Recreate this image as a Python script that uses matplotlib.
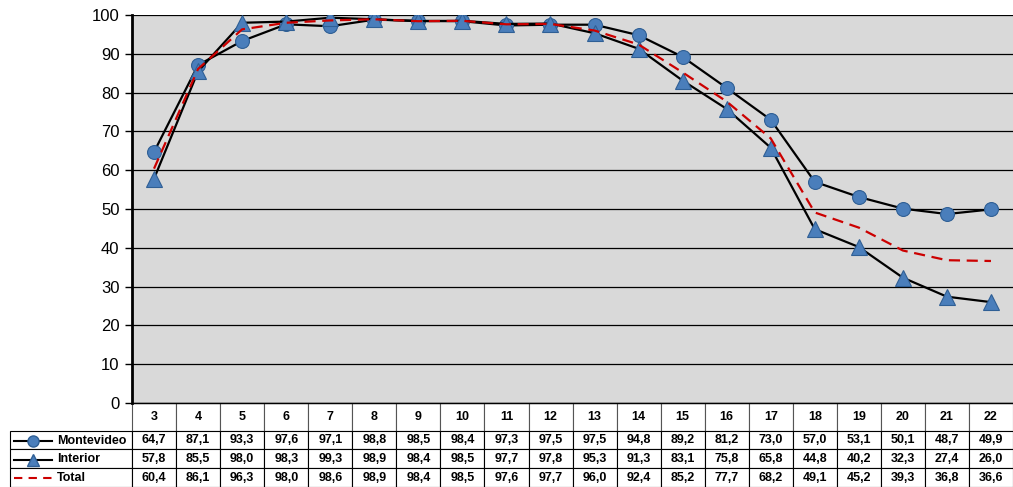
import matplotlib
matplotlib.use("Agg")
import matplotlib.pyplot as plt
from matplotlib.lines import Line2D
from matplotlib.table import Table

plt.rcParams['font.family'] = ['Liberation Sans', 'DejaVu Sans']

# Datos
edades = [3, 4, 5, 6, 7, 8, 9, 10, 11, 12, 13, 14, 15, 16, 17, 18, 19, 20, 21, 22]
montevideo = [64.7, 87.1, 93.3, 97.6, 97.1, 98.8, 98.5, 98.4, 97.3, 97.5,
              97.5, 94.8, 89.2, 81.2, 73.0, 57.0, 53.1, 50.1, 48.7, 49.9]
interior = [57.8, 85.5, 98.0, 98.3, 99.3, 98.9, 98.4, 98.5, 97.7, 97.8,
            95.3, 91.3, 83.1, 75.8, 65.8, 44.8, 40.2, 32.3, 27.4, 26.0]
total = [60.4, 86.1, 96.3, 98.0, 98.6, 98.9, 98.4, 98.5, 97.6, 97.7,
         96.0, 92.4, 85.2, 77.7, 68.2, 49.1, 45.2, 39.3, 36.8, 36.6]
series_names = ["Montevideo", "Interior", "Total"]

W, H = 1013, 487
fig = plt.figure(figsize=(W / 100, H / 100), dpi=100)
ax = fig.add_axes([132 / W, 1 - 403 / H, 881 / W, 388 / H])
ax.set_facecolor('#D9D9D9')

x = list(range(len(edades)))
blue = '#4A7EBB'
edge = '#2F5F95'
ax.plot(x, montevideo, color='black', lw=1.6, marker='o', ms=10,
        mfc=blue, mec=edge, mew=0.8, zorder=3)
ax.plot(x, interior, color='black', lw=1.6, marker='^', ms=11,
        mfc=blue, mec=edge, mew=0.8, zorder=3)
ax.plot(x, total, color='#CC0000', lw=1.6, ls=(0, (5, 3)), zorder=4)

ax.set_xlim(-0.5, len(edades) - 0.5)
ax.set_ylim(0, 100)
ax.set_yticks(range(0, 101, 10))
ax.yaxis.grid(True, color='black', lw=0.9)
ax.set_axisbelow(True)
ax.set_xticks([])
ax.tick_params(axis='y', labelsize=12, length=5, width=1, direction='out', pad=4)
for s in ['top', 'right']:
    ax.spines[s].set_visible(False)
ax.spines['left'].set_linewidth(2)
ax.spines['bottom'].set_linewidth(1)

# Tabla de datos (construida celda a celda)
fmt = lambda v: f"{v:.1f}".replace('.', ',')
ax_w = 881
tab = Table(ax, bbox=[-122 / ax_w, -84 / 388, (ax_w + 122) / ax_w, 84 / 388])
cw = 44 / ax_w
for j, e in enumerate(edades):
    c = tab.add_cell(0, j + 1, width=cw, height=28, text=str(e), loc='center')
    c.set_edgecolor('#555555')
for i, serie in enumerate((montevideo, interior, total)):
    tab.add_cell(i + 1, 0, width=122 / ax_w, height=19, text='')
    for j, v in enumerate(serie):
        tab.add_cell(i + 1, j + 1, width=cw, height=19, text=fmt(v), loc='center')
tab.auto_set_font_size(False)
tab.set_fontsize(9)
for (r, c), cell in tab.get_celld().items():
    cell.set_linewidth(0.8)
    cell.get_text().set_fontweight('bold')
ax.add_table(tab)

# Claves de la leyenda en la tabla
row_y = [440.5, 459.5, 478.0]
estilos = [dict(color='black', lw=1.5), dict(color='black', lw=1.5),
           dict(color='#CC0000', ls=(0, (4, 3)), lw=1.5)]
marcas = ['o', '^', None]
for nombre, yy, st, mk in zip(series_names, row_y, estilos, marcas):
    fy = 1 - yy / H
    fig.add_artist(Line2D([14 / W, 52 / W], [fy, fy], transform=fig.transFigure, **st))
    if mk:
        fig.add_artist(Line2D([33 / W], [fy], transform=fig.transFigure,
                              marker=mk, ms=8, mfc=blue, mec=edge, ls='none'))
    fig.text(57 / W, fy, nombre, fontsize=9, fontweight='bold', va='center', ha='left')

fig.savefig('out.png', dpi=100)
